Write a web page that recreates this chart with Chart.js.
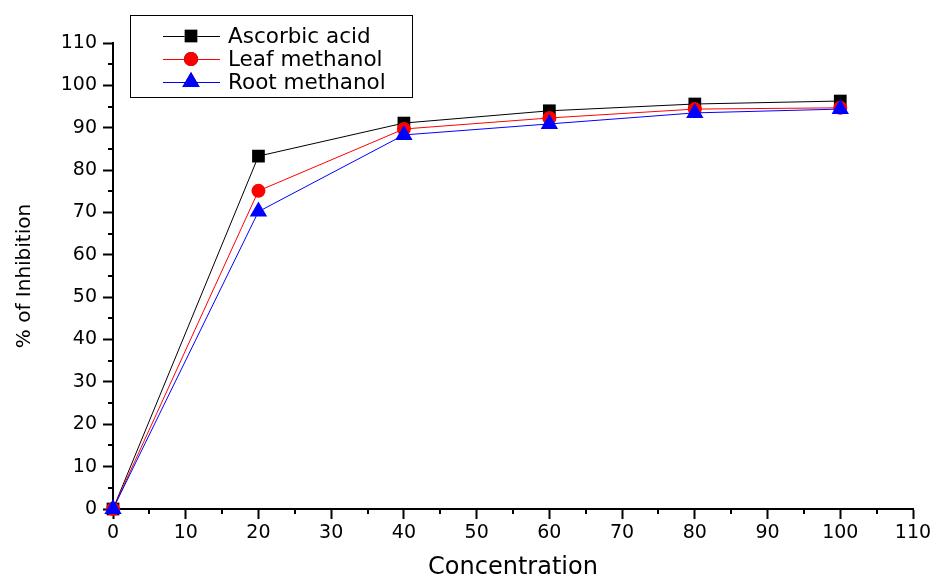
<!DOCTYPE html>
<html lang="en">
<head>
  <meta charset="UTF-8" />
  <title>% of Inhibition vs Concentration</title>
  <script src="https://cdn.jsdelivr.net/npm/chart.js@4.4.0/dist/chart.umd.min.js"></script>
  <style>
    html, body { margin:0; padding:0; background:#fff; }
    #wrap      { width:936px; height:577px; position:relative; }
  </style>
</head>
<body>
  <div id="wrap"><canvas id="chart"></canvas></div>

  <script>
    /* ── data ── */
    const concentration = [0, 20, 40, 60, 80, 100];
    const ascorbicAcid  = [0, 83.3, 91.1, 94.0, 95.6, 96.3];
    const leafMethanol  = [0, 75.1, 89.7, 92.3, 94.4, 94.7];
    const rootMethanol  = [0, 70.2, 88.3, 90.9, 93.5, 94.4];
    const seriesNames   = ['Ascorbic acid', 'Leaf methanol', 'Root methanol'];

    const FONT = '"DejaVu Sans", "Liberation Sans", Arial, sans-serif';
    const toXY = ys => concentration.map((x, i) => ({ x, y: ys[i] }));

    /* minor ticks (every 5) drawn shorter than the major ones */
    const minorTicks = {
      id: 'minorTicks',
      afterDraw(chart){
        const { ctx, scales:{ x, y } } = chart;
        ctx.save();
        ctx.strokeStyle = '#000';
        ctx.lineWidth = 2;
        ctx.beginPath();
        for(let v = 5; v < 110; v += 10){
          const px = Math.round(x.getPixelForValue(v));
          ctx.moveTo(px, x.top); ctx.lineTo(px, x.top + 5);
          const py = Math.round(y.getPixelForValue(v));
          ctx.moveTo(y.right, py); ctx.lineTo(y.right - 5, py);
        }
        ctx.stroke();
        ctx.restore();
      }
    };

    /* boxed legend: line + marker, like the original plot */
    const boxLegend = {
      id: 'boxLegend',
      afterDraw(chart){
        const ctx = chart.ctx;
        const bx = 130, by = 15, bw = 282, bh = 82;
        ctx.save();
        ctx.fillStyle = '#fff';
        ctx.fillRect(bx, by, bw, bh);
        ctx.strokeStyle = '#000';
        ctx.lineWidth = 1;
        ctx.strokeRect(bx + 0.5, by + 0.5, bw, bh);
        ctx.font = '21.5px ' + FONT;
        ctx.textBaseline = 'middle';
        chart.data.datasets.forEach((ds, i) => {
          const cy = by + 21 + i * 23;
          ctx.strokeStyle = ds.borderColor;
          ctx.lineWidth = 1;
          ctx.beginPath();
          ctx.moveTo(bx + 33, cy + 0.5); ctx.lineTo(bx + 90, cy + 0.5);
          ctx.stroke();
          Chart.helpers.drawPoint(ctx, {
            pointStyle: ds.pointStyle, radius: ds.pointRadius,
            borderWidth: 0, rotation: 0
          }, bx + 61, cy);
          ctx.fillStyle = ds.pointBackgroundColor;
          ctx.fill();
          ctx.fillStyle = '#000';
          ctx.fillText(ds.label, bx + 98, cy + 1);
        });
        ctx.restore();
      }
    };

    new Chart(document.getElementById('chart'), {
      type: 'line',
      data: {
        datasets: [
          { label: seriesNames[0], data: toXY(ascorbicAcid), borderColor:'#000', backgroundColor:'#000',
            pointBackgroundColor:'#000', pointBorderColor:'#000', pointStyle:'rect', pointRadius:9, order:3 },
          { label: seriesNames[1], data: toXY(leafMethanol), borderColor:'#ff0000', backgroundColor:'#ff0000',
            pointBackgroundColor:'#ff0000', pointBorderColor:'#ff0000', pointStyle:'circle', pointRadius:7, order:2 },
          { label: seriesNames[2], data: toXY(rootMethanol), borderColor:'#0000ff', backgroundColor:'#0000ff',
            pointBackgroundColor:'#0000ff', pointBorderColor:'#0000ff', pointStyle:'triangle', pointRadius:10, order:1 }
        ].map(d => Object.assign(d, { borderWidth:1, pointBorderWidth:0, tension:0, fill:false, clip:false }))
      },
      options: {
        responsive: true,
        maintainAspectRatio: false,
        animation: false,
        layout: { padding: { top:43, right:23, left:0, bottom:0 } },
        plugins: { legend:{ display:false }, tooltip:{ enabled:false } },
        scales: {
          x: {
            type: 'linear', min: 0, max: 110,
            afterFit: s => { s.height = 68; },
            border: { display:true, color:'#000', width:2 },
            grid: { drawOnChartArea:false, drawTicks:true, tickLength:10, tickColor:'#000', tickWidth:2 },
            ticks: { stepSize:10, color:'#000', font:{ family:FONT, size:19 }, padding:3, maxRotation:0 },
            title: { display:true, text:'Concentration', color:'#000', font:{ family:FONT, size:24, lineHeight:0.75 }, padding:{ top:0, bottom:0 } }
          },
          y: {
            type: 'linear', min: 0, max: 110,
            afterFit: s => { s.width = 113; },
            border: { display:true, color:'#000', width:2 },
            grid: { drawOnChartArea:false, drawTicks:true, tickLength:10, tickColor:'#000', tickWidth:2 },
            ticks: { stepSize:10, color:'#000', font:{ family:FONT, size:19 }, padding:6 },
            title: { display:true, text:'% of Inhibition', color:'#000', font:{ family:FONT, size:20, lineHeight:1 }, padding:{ top:15, bottom:0 } }
          }
        }
      },
      plugins: [minorTicks, boxLegend]
    });
  </script>
</body>
</html>
